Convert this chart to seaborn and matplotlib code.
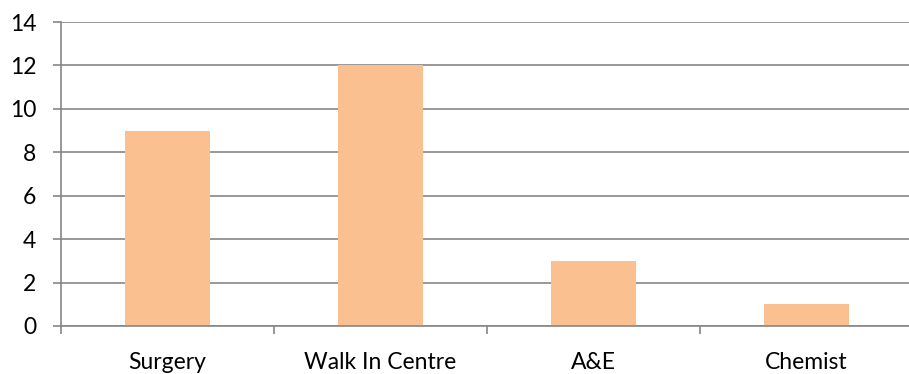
import matplotlib
matplotlib.use("Agg")
import matplotlib.pyplot as plt
import seaborn as sns
import pandas as pd
from matplotlib.ticker import FixedLocator

categories = ["Surgery", "Walk In Centre", "A&E", "Chemist"]
counts = [9, 12, 3, 1]
y_ticks = [0, 2, 4, 6, 8, 10, 12, 14]

df = pd.DataFrame({"place": categories, "count": counts})

sns.set_theme(style="white")
plt.rcParams["font.family"] = ["Lato", "DejaVu Sans"]

grey = "#868686"
lw = 1.2
fig = plt.figure(figsize=(9.09, 3.74), dpi=100)
# plot area runs slightly past the right edge of the canvas
ax = fig.add_axes([61 / 909, 1 - 326 / 374, (913 - 61) / 909, (326 - 22) / 374])

sns.barplot(data=df, x="place", y="count", color="#FAC090", width=0.4,
            saturation=1, linewidth=0, edgecolor="none", ax=ax, zorder=3)

ax.set_xlim(-0.5, len(categories) - 0.5)
ax.set_ylim(0, 14)
ax.set_yticks(y_ticks)
ax.yaxis.grid(True, color=grey, linewidth=lw, zorder=0)
ax.set_axisbelow(True)
ax.set_xlabel("")
ax.set_ylabel("")

for side in ["top", "right"]:
    ax.spines[side].set_visible(False)
for side in ["left", "bottom"]:
    ax.spines[side].set_color(grey)
    ax.spines[side].set_linewidth(lw)
ax.spines["bottom"].set_zorder(4)

# category labels without ticks; tick marks sit between categories
ax.tick_params(axis="x", which="major", length=0, pad=18.5, labelsize=16.5,
               labelcolor="black")
ax.xaxis.set_minor_locator(FixedLocator([i - 0.5 for i in range(len(categories) + 1)]))
ax.tick_params(axis="x", which="minor", length=5.8, width=lw, color=grey,
               direction="out", bottom=True)
ax.tick_params(axis="y", length=5.8, width=lw, color=grey, direction="out",
               left=True, labelsize=16.5, labelcolor="black", pad=12)

fig.savefig("out.png", dpi=100, facecolor="white")
